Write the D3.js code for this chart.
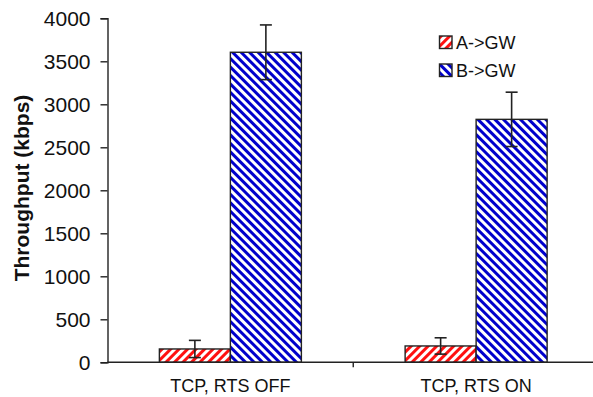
<!DOCTYPE html>
<html><head><meta charset="utf-8">
<script src="https://cdn.jsdelivr.net/npm/d3@7"></script>
<style>body{margin:0;background:#fff;}svg{display:block;font-family:"Liberation Sans",Arial,sans-serif;}</style>
</head><body>
<svg id="c" width="593" height="397"></svg>
<script>
const categories = ["TCP, RTS OFF", "TCP, RTS ON"];
const seriesNames = ["A->GW", "B->GW"];
const seriesA = [155, 190];
const seriesB = [3605, 2825];
const errA = [100, 95];
const errB = [318, 316];
const yTicks = [0, 500, 1000, 1500, 2000, 2500, 3000, 3500, 4000];

(function () {
const svg = d3.select("#c");
const colors = ["#ff1010", "#0000cc"];
const defs = svg.append("defs");
[[0, 45], [1, -45]].forEach(([i, ang]) => {
  const p = defs.append("pattern").attr("id", "hatch" + i)
    .attr("patternUnits", "userSpaceOnUse").attr("width", 6).attr("height", 6)
    .attr("patternTransform", `rotate(${ang})`);
  p.append("rect").attr("width", 6).attr("height", 6).attr("fill", "#fff");
  p.append("rect").attr("width", 3).attr("height", 6).attr("fill", colors[i]);
});

const mLeft = 107.5, mRight = 599, mTop = 18.3, mBottom = 362.3;
const y = d3.scaleLinear().domain([0, 4000]).range([mBottom, mTop]);
const x = d3.scaleBand().domain(categories).range([mLeft, mRight]).padding(0);
const barW = 71;
const xs = d3.scaleBand().domain([0, 1]).range([-barW, barW]);

const data = [seriesA, seriesB];
const errs = [errA, errB];

// bars
data.forEach((vals, si) => {
  svg.append("g").selectAll("rect").data(vals).join("rect")
    .attr("x", (d, i) => x.bandwidth() / 2 + x(categories[i]) + xs(si))
    .attr("y", d => y(d))
    .attr("width", xs.bandwidth())
    .attr("height", d => y(0) - y(d))
    .attr("fill", `url(#hatch${si})`)
    .attr("stroke", "#222").attr("stroke-width", 1.4);
});

// error bars
data.forEach((vals, si) => {
  const g = svg.append("g").attr("stroke", "#222").attr("stroke-width", 1.6);
  vals.forEach((v, i) => {
    const cx = x(categories[i]) + x.bandwidth() / 2 + xs(si) + xs.bandwidth() / 2;
    const e = errs[si][i];
    g.append("line").attr("x1", cx).attr("x2", cx).attr("y1", y(v + e)).attr("y2", y(v - e));
    g.append("line").attr("x1", cx - 6).attr("x2", cx + 6).attr("y1", y(v + e)).attr("y2", y(v + e));
    g.append("line").attr("x1", cx - 6).attr("x2", cx + 6).attr("y1", y(v - e)).attr("y2", y(v - e));
  });
});

// y axis
const ya = svg.append("g").attr("transform", `translate(${mLeft},0)`)
  .call(d3.axisLeft(y).tickValues(yTicks).tickSize(7).tickPadding(10).tickFormat(d3.format("d")));
ya.select(".domain").attr("stroke", "#222").attr("stroke-width", 1.4);
ya.selectAll(".tick line").attr("stroke", "#222").attr("stroke-width", 1.4);
ya.selectAll(".tick text").attr("font-size", 21).attr("fill", "#111")
  .attr("font-family", "'Liberation Sans', Arial, sans-serif");

// x axis
const xa = svg.append("g").attr("transform", `translate(0,${mBottom})`);
xa.append("line").attr("x1", mLeft).attr("x2", mRight).attr("stroke", "#222").attr("stroke-width", 1.4);
xa.selectAll("line.t").data(categories.slice(1)).join("line").attr("class", "t")
  .attr("x1", d => x(d)).attr("x2", d => x(d)).attr("y1", 0).attr("y2", 5)
  .attr("stroke", "#222").attr("stroke-width", 1.4);
xa.selectAll("text").data(categories).join("text")
  .attr("x", d => x(d) + x.bandwidth() / 2).attr("y", 30)
  .attr("text-anchor", "middle").attr("font-size", 18).attr("fill", "#111")
  .text(d => d);

// y title
svg.append("text").attr("transform", "translate(29,188) rotate(-90)")
  .attr("text-anchor", "middle").attr("font-size", 21).attr("font-weight", "bold")
  .attr("fill", "#111").text("Throughput (kbps)");

// legend
const lg = svg.append("g");
seriesNames.forEach((n, i) => {
  const yy = 36 + i * 28;
  lg.append("rect").attr("x", 439.5).attr("y", yy).attr("width", 12.5).attr("height", 12.5)
    .attr("fill", `url(#hatch${i})`).attr("stroke", "#222").attr("stroke-width", 1.4);
  lg.append("text").attr("x", 456).attr("y", yy + 12.5).attr("font-size", 18).attr("fill", "#111").text(n);
});
})();
</script>
</body></html>
